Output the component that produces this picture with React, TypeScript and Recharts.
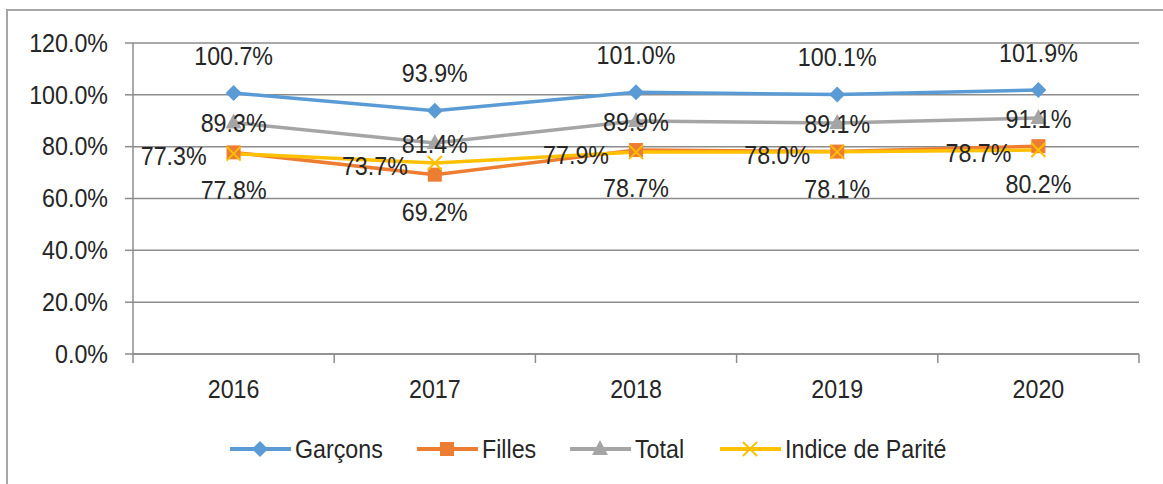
import React from 'react';
import { LineChart, Line, XAxis, YAxis, CartesianGrid, Legend, LabelList } from 'recharts';

const categories = ['2016', '2017', '2018', '2019', '2020'];
const garcons = [100.7, 93.9, 101.0, 100.1, 101.9];
const filles = [77.8, 69.2, 78.7, 78.1, 80.2];
const total = [89.3, 81.4, 89.9, 89.1, 91.1];
const parite = [77.3, 73.7, 77.9, 78.0, 78.7];
const yTicks = [0, 20, 40, 60, 80, 100, 120];

const seriesNames = ['Garçons', 'Filles', 'Total', 'Indice de Parité'];
const seriesKeys = ['garcons', 'filles', 'total', 'parite'];
const seriesColors = ['#5B9BD5', '#ED7D31', '#A5A5A5', '#FFC000'];
const seriesShapes = ['diamond', 'square', 'triangle', 'x'];

const data = categories.map((year, i) => ({
  year,
  garcons: garcons[i],
  filles: filles[i],
  total: total[i],
  parite: parite[i],
}));

const FONT = '"Liberation Sans", Arial, sans-serif';
const TEXT = '#262626';
const GRID = '#8c8c8c';
const FS = 25;
const SX = 0.93;

const W = 1163;
const H = 484;
const MARGIN = { top: 43, right: 24, left: 0, bottom: 100 };
const Y_AXIS_W = 133;
const X_AXIS_H = 30;
const PLOT_W = W - MARGIN.left - MARGIN.right - Y_AXIS_W;
const BAND = PLOT_W / categories.length;
const AXIS_Y = H - MARGIN.bottom - X_AXIS_H;

// legend layout (icon start x in the picture)
const LEGEND_X = [230, 417, 570, 720];
const LEGEND_Y = 449;

const fmt = (v: number) => `${Number(v).toFixed(1)}%`;

function NarrowText({ x, y, anchor, size = FS, sx = SX, children }: any) {
  return (
    <text
      transform={`translate(${x},${y}) scale(${sx},1)`}
      x={0}
      y={0}
      textAnchor={anchor}
      dominantBaseline="central"
      fill={TEXT}
      fontSize={size}
      fontFamily={FONT}
    >
      {children}
    </text>
  );
}

function Marker({ shape, cx, cy, color }: { shape: string; cx: number; cy: number; color: string }) {
  if (shape === 'diamond') {
    return <polygon points={`${cx},${cy - 8} ${cx + 8},${cy} ${cx},${cy + 8} ${cx - 8},${cy}`} fill={color} />;
  }
  if (shape === 'square') {
    return <rect x={cx - 7} y={cy - 7} width={14} height={14} fill={color} />;
  }
  if (shape === 'triangle') {
    return <polygon points={`${cx},${cy - 9} ${cx + 8},${cy + 6} ${cx - 8},${cy + 6}`} fill={color} />;
  }
  return (
    <g stroke={color} strokeWidth={2}>
      <line x1={cx - 7} y1={cy - 7} x2={cx + 7} y2={cy + 7} />
      <line x1={cx - 7} y1={cy + 7} x2={cx + 7} y2={cy - 7} />
    </g>
  );
}

const makeDot = (idx: number) => (p: any) => (
  <Marker key={`${seriesKeys[idx]}-${p.index}`} shape={seriesShapes[idx]} cx={p.cx} cy={p.cy} color={seriesColors[idx]} />
);

const labelPlacement = [
  { dx: 0, dy: -37, anchor: 'middle' },
  { dx: 0, dy: 38, anchor: 'middle' },
  { dx: 0, dy: 1, anchor: 'middle' },
  { dx: -27, dy: 3, anchor: 'end' },
];

const makeLabel = (idx: number) => (p: any) => {
  const x = p.x ?? p.viewBox?.x;
  const y = p.y ?? p.viewBox?.y;
  const pl = labelPlacement[idx];
  return (
    <NarrowText key={`lbl-${idx}-${p.index}`} x={x + pl.dx} y={y + pl.dy} anchor={pl.anchor}>
      {fmt(p.value)}
    </NarrowText>
  );
};

const XTick = (props: any) => {
  const { x, payload } = props;
  const isLast = payload.value === categories[categories.length - 1];
  return (
    <g>
      <line x1={x - BAND / 2} y1={AXIS_Y} x2={x - BAND / 2} y2={AXIS_Y + 9} stroke={GRID} strokeWidth={1.5} />
      {isLast && <line x1={x + BAND / 2} y1={AXIS_Y} x2={x + BAND / 2} y2={AXIS_Y + 9} stroke={GRID} strokeWidth={1.5} />}
      <NarrowText x={x} y={AXIS_Y + 35} anchor="middle">
        {payload.value}
      </NarrowText>
    </g>
  );
};

const YTick = (props: any) => {
  const { y, payload } = props;
  const axisX = MARGIN.left + Y_AXIS_W;
  return (
    <g>
      <line x1={axisX - 8} y1={y} x2={axisX} y2={y} stroke={GRID} strokeWidth={1.5} />
      <NarrowText x={axisX - 25} y={y} anchor="end">
        {fmt(payload.value)}
      </NarrowText>
    </g>
  );
};

const LegendContent = () => (
  <svg width={W} height={40} style={{ display: 'block' }}>
    {seriesNames.map((name, i) => {
      const x0 = LEGEND_X[i];
      const cy = 20;
      return (
        <g key={name}>
          <line x1={x0} y1={cy} x2={x0 + 61} y2={cy} stroke={seriesColors[i]} strokeWidth={4} />
          <Marker shape={seriesShapes[i]} cx={x0 + 30} cy={cy} color={seriesColors[i]} />
          <NarrowText x={x0 + 65} y={cy} anchor="start">
            {name}
          </NarrowText>
        </g>
      );
    })}
  </svg>
);

export default function App() {
  return (
    <div style={{ position: 'absolute', left: 0, top: 0, width: W, height: H, background: '#fff', overflow: 'hidden' }}>
      <div
        style={{
          position: 'absolute',
          left: 6,
          top: 9,
          width: 1200,
          height: 520,
          borderTop: '2px solid #a6a6a6',
          borderLeft: '2px solid #a6a6a6',
        }}
      />
      <div style={{ position: 'absolute', left: 0, top: 0 }}>
        <LineChart width={W} height={H} data={data} margin={MARGIN}>
          <CartesianGrid vertical={false} stroke={GRID} strokeWidth={1.5} />
          <XAxis
            dataKey="year"
            height={X_AXIS_H}
            padding={{ left: BAND / 2, right: BAND / 2 }}
            axisLine={{ stroke: GRID, strokeWidth: 1.5 }}
            tickLine={false}
            tick={<XTick />}
            interval={0}
          />
          <YAxis
            width={Y_AXIS_W}
            domain={[0, 120]}
            ticks={yTicks}
            axisLine={{ stroke: GRID, strokeWidth: 1.5 }}
            tickLine={false}
            tick={<YTick />}
            interval={0}
          />
          <Legend
            verticalAlign="middle"
            layout="horizontal"
            wrapperStyle={{ top: LEGEND_Y - 20, left: 0, width: W, height: 40 }}
            content={<LegendContent />}
          />
          {seriesKeys.map((k, i) => (
            <Line
              key={k}
              dataKey={k}
              name={seriesNames[i]}
              stroke={seriesColors[i]}
              strokeWidth={3.5}
              dot={makeDot(i)}
              activeDot={false}
              isAnimationActive={false}
            />
          ))}
          {seriesKeys.map((k, i) => (
            <Line
              key={`${k}-labels`}
              dataKey={k}
              stroke="none"
              dot={false}
              activeDot={false}
              legendType="none"
              isAnimationActive={false}
            >
              <LabelList dataKey={k} content={makeLabel(i)} />
            </Line>
          ))}
        </LineChart>
      </div>
    </div>
  );
}
